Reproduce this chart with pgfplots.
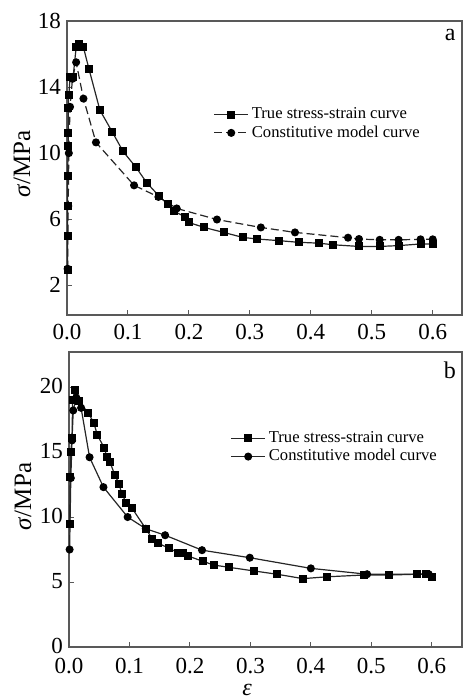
\documentclass[border=0pt]{standalone}
\usepackage{fontspec}
\setmainfont{Liberation Serif}
\usepackage{pgfplots}
\pgfplotsset{compat=1.18}

\definecolor{frame}{gray}{0.35}
\definecolor{curve}{gray}{0.15}

\pgfplotsset{
  panel/.style={
    scale only axis,
    anchor=south west,
    axis line style={frame, line width=0.9pt},
    tick align=inside,
    xtick pos=bottom, ytick pos=left,
    major tick length=2.5pt,
    tick style={frame, line width=0.5pt},
    xtick={0,0.1,0.2,0.3,0.4,0.5,0.6},
    /pgf/number format/assume math mode=true,
    tick label style={font=\fontsize{11.5}{13}\selectfont},
    xticklabel style={inner sep=1pt, yshift=-4.5pt,
      /pgf/number format/fixed, /pgf/number format/fixed zerofill,
      /pgf/number format/precision=1},
    yticklabel style={xshift=0.5pt},
    ylabel={\textit{σ}/MPa},
    clip=false,
    legend cell align=left,
    legend style={draw=none, fill=none, inner sep=0pt, row sep=-1pt,
      font=\fontsize{8.3}{9}\selectfont, nodes={inner sep=1.5pt}},
  },
  tru/.style={curve, line width=0.6pt, mark=square*, mark size=1.7pt,
    mark options={solid, fill=black, draw=black}},
  con/.style={curve, line width=0.6pt, mark=*, mark size=1.7pt,
    mark options={solid, fill=black, draw=black}},
}

\begin{document}
\begin{tikzpicture}
\path[use as bounding box] (0,0) rectangle (232pt,349.5pt);

% panel a
\begin{axis}[panel,
  at={(33.5pt,192pt)}, width=197.5pt, height=147pt,
  xmin=0, xmax=0.648, ymin=0.2, ymax=18,
  ytick={2,6,10,14,18},
  xticklabel style={yshift=1pt},
  ylabel style={at={(axis description cs:-0.114,0.514)}, anchor=center,
    font=\fontsize{12.5}{14}\selectfont},
  legend style={at={(axis description cs:0.37,0.65)}, anchor=west},
]
\addplot[tru] coordinates {
  (0.001,2.9) (0.001,5.0) (0.001,6.8) (0.001,8.6) (0.002,10.45) (0.002,11.2)
  (0.002,12.75) (0.003,13.5) (0.005,14.6) (0.010,14.6) (0.015,16.4) (0.019,16.6)
  (0.027,16.4) (0.036,15.1) (0.054,12.6) (0.074,11.3) (0.092,10.1) (0.113,9.15)
  (0.131,8.2) (0.151,7.4) (0.165,6.9) (0.175,6.5) (0.193,6.15) (0.2,5.8)
  (0.225,5.5) (0.257,5.2) (0.288,4.9) (0.312,4.8) (0.348,4.7) (0.38,4.6)
  (0.413,4.55) (0.437,4.45) (0.479,4.35) (0.513,4.35) (0.544,4.4) (0.58,4.5)
  (0.6,4.5)
};
\addlegendentry{True stress-strain curve}
\addplot[con, dash pattern=on 4pt off 2pt] coordinates {
  (0.001,3.0) (0.002,6.8) (0.003,10.0) (0.005,12.8) (0.009,14.5) (0.015,15.5)
  (0.027,13.3) (0.0475,10.65) (0.11,8.05) (0.15,7.35) (0.18,6.65) (0.246,5.98)
  (0.318,5.5) (0.374,5.2) (0.461,4.88) (0.479,4.8) (0.513,4.75) (0.544,4.75)
  (0.58,4.78) (0.6,4.78)
};
\addlegendentry{Constitutive model curve}
\node[font=\fontsize{12}{14}\selectfont] at (rel axis cs:0.97,0.952) {a};
\end{axis}

% panel b
\begin{axis}[panel,
  at={(34.5pt,26pt)}, width=196.5pt, height=147.5pt,
  xmin=0, xmax=0.65, ymin=0, ymax=22.7,
  ytick={0,5,10,15,20},
  yticklabel style={yshift=0.5pt},
  xlabel={\textit{ε}},
  xlabel style={at={(axis description cs:0.453,-0.146)}, anchor=center,
    inner sep=0pt, font=\fontsize{12}{13}\selectfont},
  ylabel style={at={(axis description cs:-0.117,0.51)}, anchor=center,
    font=\fontsize{12.5}{14}\selectfont},
  legend style={at={(axis description cs:0.41,0.676)}, anchor=west},
]
\addplot[tru] coordinates {
  (0.001,9.5) (0.002,13.1) (0.003,15.0) (0.005,16.1) (0.006,19.0) (0.010,19.77)
  (0.0165,18.9) (0.032,18.0) (0.041,17.25) (0.047,16.3) (0.058,15.35) (0.063,14.6)
  (0.068,14.2) (0.076,13.2) (0.083,12.55) (0.087,11.8) (0.095,11.1) (0.104,10.7)
  (0.127,9.1) (0.138,8.3) (0.147,8.0) (0.165,7.6) (0.181,7.25) (0.188,7.2)
  (0.197,7.0) (0.221,6.6) (0.24,6.3) (0.265,6.13) (0.306,5.85) (0.344,5.6)
  (0.387,5.26) (0.426,5.4) (0.488,5.54) (0.53,5.54) (0.576,5.6) (0.59,5.65)
  (0.6,5.36)
};
\addlegendentry{True stress-strain curve}
\addplot[con] coordinates {
  (0.001,7.5) (0.003,13.0) (0.005,15.9) (0.007,18.2) (0.012,19.2) (0.02,18.4)
  (0.034,14.6) (0.057,12.3) (0.097,10.0) (0.127,9.1) (0.159,8.6) (0.22,7.45)
  (0.299,6.87) (0.4,6.05) (0.493,5.6) (0.595,5.6)
};
\addlegendentry{Constitutive model curve}
\node[font=\fontsize{12}{14}\selectfont] at (rel axis cs:0.969,0.939) {b};
\end{axis}
\end{tikzpicture}
\end{document}
